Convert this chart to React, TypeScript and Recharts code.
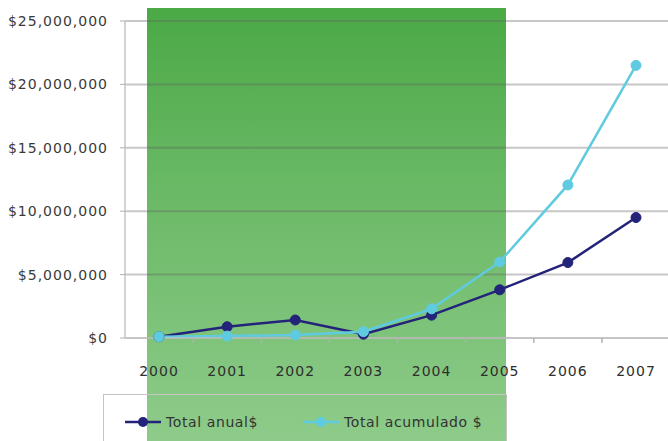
import React from 'react'
import { LineChart, Line, XAxis, YAxis, CartesianGrid, Legend } from 'recharts'

const years = ['2000', '2001', '2002', '2003', '2004', '2005', '2006', '2007']
const totalAnual = [100000, 890000, 1420000, 300000, 1800000, 3800000, 5950000, 9500000]
const totalAcumulado = [100000, 150000, 240000, 500000, 2300000, 6000000, 12070000, 21500000]
const yTicks = [0, 5000000, 10000000, 15000000, 20000000, 25000000]
const seriesNames = ['Total anual$', 'Total acumulado $']

const data = years.map((year, i) => ({
  year,
  anual: totalAnual[i],
  acumulado: totalAcumulado[i],
}))

const FONT = '"DejaVu Sans", Verdana, sans-serif'
const HALF_BAND = 34

const money = (v: number) => '$' + v.toLocaleString('en-US')

// year label plus the small tick mark on the left boundary of each category
function YearTick({ x, y, payload, index }: any) {
  return (
    <g>
      {index > 0 && (
        <line x1={x - HALF_BAND} x2={x - HALF_BAND} y1={338} y2={343} stroke="#b0b0b0" strokeWidth={1.5} />
      )}
      <text
        x={x}
        y={y}
        dy="0.71em"
        textAnchor="middle"
        fontSize={14}
        fill="#2e2e2e"
        fontFamily={FONT}
        letterSpacing={1}
      >
        {payload.value}
      </text>
    </g>
  )
}

function LegendBox({ payload }: any) {
  const items = [...(payload || [])].sort(
    (a: any, b: any) => seriesNames.indexOf(a.value) - seriesNames.indexOf(b.value)
  )
  return (
    <div
      style={{
        boxSizing: 'border-box',
        width: '100%',
        height: '100%',
        border: '1.5px solid #c4c4c4',
        position: 'relative',
        fontFamily: FONT,
        fontSize: 14,
        letterSpacing: 0.6,
        color: '#333',
      }}
    >
      {items.map((entry: any, i: number) => (
        <div
          key={entry.value}
          style={{
            position: 'absolute',
            left: i === 0 ? 21 : 199,
            top: 19,
            display: 'flex',
            alignItems: 'center',
            gap: 5,
          }}
        >
          <svg width={36} height={14}>
            <line x1={0} y1={7} x2={36} y2={7} stroke={entry.color} strokeWidth={2.5} />
            <circle cx={18} cy={7} r={5} fill={entry.color} />
          </svg>
          <span>{entry.value}</span>
        </div>
      ))}
    </div>
  )
}

export default function App() {
  return (
    <div style={{ position: 'fixed', left: 0, top: 0, width: 668, height: 441, overflow: 'hidden', background: '#fff' }}>
      {/* green highlight band behind the chart */}
      <div
        style={{
          position: 'absolute',
          left: 147,
          top: 8,
          width: 359,
          height: 433,
          background: 'linear-gradient(to bottom, #4ba946 0%, #6cba68 45%, #8ecb8a 100%)',
        }}
      />
      <div style={{ position: 'absolute', left: 0, top: 0 }}>
        <LineChart width={670} height={441} data={data} margin={{ top: 21, right: 0, bottom: 0, left: 0 }}>
          <CartesianGrid vertical={false} stroke="rgba(95,95,95,0.35)" strokeWidth={2} />
          <XAxis
            dataKey="year"
            height={103}
            padding={{ left: HALF_BAND, right: HALF_BAND }}
            tickLine={false}
            tickMargin={22}
            axisLine={{ stroke: '#c4c4c4', strokeWidth: 1.5 }}
            tick={<YearTick />}
          />
          <YAxis
            width={125}
            domain={[0, 25000000]}
            ticks={yTicks}
            tickFormatter={money}
            tickSize={5}
            tickMargin={12}
            axisLine={{ stroke: '#c4c4c4', strokeWidth: 1.5 }}
            tickLine={{ stroke: '#b0b0b0' }}
            tick={{ fontSize: 14, fill: '#3a3a3a', fontFamily: FONT, letterSpacing: 1 }}
          />
          <Legend
            layout="horizontal"
            verticalAlign="middle"
            align="center"
            wrapperStyle={{ left: 103, top: 394, width: 404, height: 60 }}
            content={<LegendBox />}
          />
          <Line
            dataKey="anual"
            name={seriesNames[0]}
            stroke="#23237a"
            strokeWidth={2.5}
            dot={{ r: 5, fill: '#23237a', stroke: '#23237a', strokeWidth: 1 }}
            isAnimationActive={false}
          />
          <Line
            dataKey="acumulado"
            name={seriesNames[1]}
            stroke="#5fcbe0"
            strokeWidth={2.5}
            dot={{ r: 5, fill: '#5fcbe0', stroke: '#5fcbe0', strokeWidth: 1 }}
            isAnimationActive={false}
          />
        </LineChart>
      </div>
    </div>
  )
}
